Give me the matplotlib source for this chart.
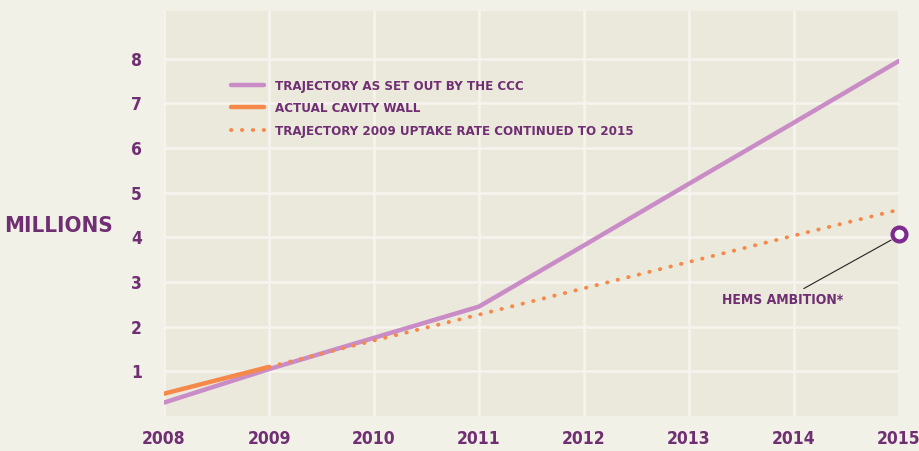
import numpy as np
import matplotlib.pyplot as plt

years = [2008, 2009, 2010, 2011, 2012, 2013, 2014, 2015]
ccc = [0.30, 1.05, 1.75, 2.45, 3.82, 5.20, 6.57, 7.95]
actual_years = [2008, 2009]
actual = [0.50, 1.10]
dotted_years = [2009, 2010, 2011, 2012, 2013, 2014, 2015]
dotted = [1.10, 1.69, 2.27, 2.86, 3.45, 4.04, 4.62]
hems_year = 2015
hems = 4.07

purple = '#6f2f72'
pink = '#c98cc6'
orange = '#f5894a'

plt.rcParams['font.family'] = ['DejaVu Sans']
plt.rcParams['font.stretch'] = 'condensed'
plt.rcParams['font.weight'] = 'bold'

fig = plt.figure(figsize=(9.19, 4.51), dpi=100, facecolor='#f2f1e8')
ax = fig.add_axes([0.1785, 0.0776, 0.7995, 0.898])
ax.set_facecolor('#ebe8dc')

ax.plot(years, ccc, color=pink, lw=3.2, solid_capstyle='round',
        label='TRAJECTORY AS SET OUT BY THE CCC', zorder=3)
ax.plot(actual_years, actual, color=orange, lw=3.2, solid_capstyle='round',
        label='ACTUAL CAVITY WALL', zorder=4)
ax.plot(dotted_years, dotted, color=orange, lw=2.8, linestyle=(0, (0.1, 2.7)),
        dash_capstyle='round', label='TRAJECTORY 2009 UPTAKE RATE CONTINUED TO 2015', zorder=3)
ax.plot([hems_year], [hems], marker='o', ms=10, mfc='white', mec='#7d2b8e',
        mew=3, zorder=5, clip_on=False)
ax.annotate('HEMS AMBITION*', xy=(hems_year - 0.05, hems - 0.1), xytext=(2014.47, 2.59),
            ha='right', va='center', color=purple, fontsize=10,
            arrowprops=dict(arrowstyle='-', color='#222222', lw=0.8, shrinkA=3, shrinkB=2))

ax.set_xlim(2008, 2015)
ax.set_ylim(0, 9.07)
ax.set_xticks(years)
ax.set_yticks(range(1, 9))
ax.grid(True, color='#f6f4ee', lw=1.8)
ax.set_axisbelow(True)
for s in ax.spines.values():
    s.set_visible(False)
ax.tick_params(length=0, colors=purple, labelsize=12.5)
ax.tick_params(axis='x', pad=10)
ax.tick_params(axis='y', pad=16)

fig.text(0.064, 0.50, 'MILLIONS', color=purple, fontsize=16,
         ha='center', va='center')

leg = ax.legend(loc='upper left', bbox_to_anchor=(0.075, 0.86), frameon=False,
                fontsize=9.5, handlelength=2.5, handletextpad=0.8, labelspacing=0.72)
for t in leg.get_texts():
    t.set_color(purple)

fig.savefig('out.png', dpi=100, facecolor=fig.get_facecolor())
